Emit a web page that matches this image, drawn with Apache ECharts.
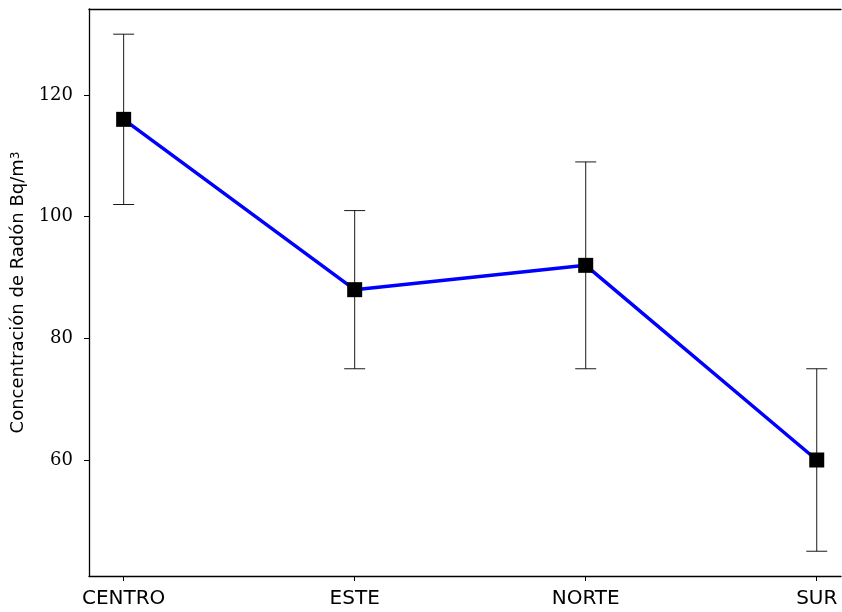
<!DOCTYPE html>
<html>
<head>
<meta charset="utf-8">
<script src="https://cdn.jsdelivr.net/npm/echarts@6/dist/echarts.min.js"></script>
<style>html,body{margin:0;padding:0;background:#fff}#c{width:842px;height:612px}</style>
</head>
<body>
<div id="c"></div>
<script>
var categories = ['CENTRO', 'ESTE', 'NORTE', 'SUR'];
var means = [116, 88, 92, 60];
var lowers = [102, 75, 75, 45];
var uppers = [130, 101, 109, 75];
var yTicks = [60, 80, 100, 120];

var chart = echarts.init(document.getElementById('c'), null, {renderer: 'canvas'});
var lineData = means.map(function (v, i) { return [i, v]; });
var errData = means.map(function (v, i) { return [i, lowers[i], uppers[i]]; });

chart.setOption({
  animation: false,
  backgroundColor: '#fff',
  grid: {left: 89, top: 9, right: 1, height: 567, show: false, containLabel: false, outerBoundsMode: 'none'},
  xAxis: [{
    type: 'value', min: -0.15, max: 3.105,
    splitLine: {show: false},
    axisLine: {show: true, onZero: false, lineStyle: {color: '#000', width: 1.3}},
    axisTick: {show: true, customValues: [0, 1, 2, 3], length: 5, lineStyle: {color: '#000', width: 1}},
    axisLabel: {customValues: [0, 1, 2, 3], formatter: function (v) { return categories[Math.round(v)]; },
      color: '#000', fontFamily: 'DejaVu Sans', fontSize: 20, margin: 13}
  }, {
    type: 'value', position: 'top', min: -0.15, max: 3.105,
    splitLine: {show: false},
    axisLine: {show: true, onZero: false, lineStyle: {color: '#000', width: 1.3}},
    axisTick: {show: false}, axisLabel: {show: false}
  }],
  yAxis: {
    type: 'value', min: 40.93, max: 134.14,
    splitLine: {show: false},
    axisLine: {show: true, onZero: false, lineStyle: {color: '#000', width: 1.3}},
    axisTick: {show: true, customValues: yTicks, length: 5, lineStyle: {color: '#000', width: 1}},
    axisLabel: {customValues: yTicks, color: '#000', fontFamily: 'DejaVu Serif', fontSize: 18, margin: 16},
    name: 'Concentración de Radón Bq/m{sup|3}',
    nameLocation: 'middle', nameGap: 55, nameRotate: 90,
    nameTextStyle: {color: '#000', fontFamily: 'DejaVu Sans', fontSize: 18,
      rich: {sup: {fontSize: 12, verticalAlign: 'top', fontFamily: 'DejaVu Sans', color: '#000', lineHeight: 10}}}
  },
  series: [
    {
      type: 'custom',
      data: errData,
      z: 1,
      renderItem: function (params, api) {
        var x = api.value(0);
        var lo = api.coord([x, api.value(1)]);
        var hi = api.coord([x, api.value(2)]);
        var hw = 10.5;
        var st = {stroke: '#000', lineWidth: 0.9};
        return {
          type: 'group',
          children: [
            {type: 'line', shape: {x1: lo[0], y1: lo[1], x2: hi[0], y2: hi[1]}, style: st},
            {type: 'line', shape: {x1: lo[0] - hw, y1: lo[1], x2: lo[0] + hw, y2: lo[1]}, style: st},
            {type: 'line', shape: {x1: hi[0] - hw, y1: hi[1], x2: hi[0] + hw, y2: hi[1]}, style: st}
          ]
        };
      }
    },
    {
      type: 'line',
      data: lineData,
      z: 3,
      lineStyle: {color: '#0000ff', width: 3.5},
      symbol: 'rect', symbolSize: 15,
      itemStyle: {color: '#000'}
    }
  ]
});
</script>
</body>
</html>
